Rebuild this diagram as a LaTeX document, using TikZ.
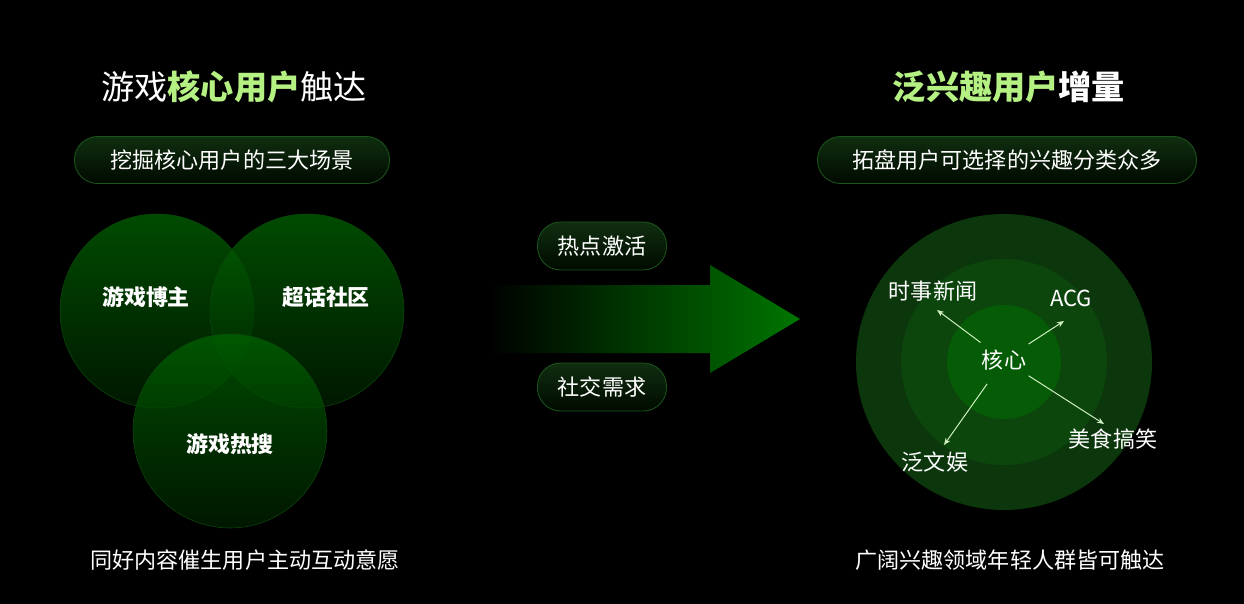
\documentclass[tikz,border=0pt]{standalone}
\usepackage{fontspec}
\setmainfont{Noto Sans CJK SC}
\usetikzlibrary{arrows.meta}
\definecolor{hilite}{RGB}{180,240,130}
\definecolor{pilltop}{RGB}{16,46,16}
\definecolor{pillbot}{RGB}{0,10,0}
\definecolor{pillline}{RGB}{28,85,28}
\definecolor{venntop}{RGB}{0,100,0}
\definecolor{vennbot}{RGB}{0,32,0}
\definecolor{vennline}{RGB}{14,70,14}
\definecolor{arrowgreen}{RGB}{0,118,0}
\definecolor{ringout}{RGB}{12,54,12}
\definecolor{ringmid}{RGB}{12,70,12}
\definecolor{ringin}{RGB}{6,92,6}
\definecolor{raycol}{RGB}{210,240,195}
\tikzset{
  title/.style={text=white, font=\fontsize{23.6}{28}\selectfont},
  body/.style={text=white, font=\fontsize{15.7}{19}\selectfont},
  tag/.style={text=white, font=\bfseries\fontsize{15.6}{19}\selectfont},
  pill/.style={body, draw=pillline, line width=0.6pt, top color=pilltop, bottom color=pillbot,
    minimum height=1.175cm, rounded corners=0.58cm},
  venn/.style={top color=venntop, bottom color=vennbot, fill opacity=0.75,
    draw=vennline, line width=0.4pt},
  ray/.style={draw=raycol, line width=0.7pt, -{Stealth[length=5pt,width=4pt]}}
}
\begin{document}
\begin{tikzpicture}[x=0.025cm, y=-0.025cm]
			%%%%% START %%%%%
			
			\fill[black] (0, 0) rectangle (1244, 604);
			\useasboundingbox (0, 0) rectangle (1244, 604);
			
			% left half
			\node[title] (ltitle) at (234, 87) {游戏{\bfseries\color{hilite}核心用户}触达};
			\node[pill, minimum width=7.875cm] (lpill) at (232, 160) {挖掘核心用户的三大场景};
			
			\shade[venn] (157, 311) circle (97);
			\shade[venn] (307, 311) circle (97);
			\shade[venn] (230, 431) circle (97);
			
			\node[tag] (blogger) at (146, 297) {游戏博主};
			\node[tag] (forum) at (326, 297) {超话社区};
			\node[tag] (search) at (230, 444) {游戏热搜};
			
			\node[body] (lnote) at (245, 560) {同好内容催生用户主动互动意愿};
			
			% middle arrow
			\shade[left color=black, right color=arrowgreen]
				(488, 285) -- (710, 285) -- (710, 265) -- (800, 319) -- (710, 373) -- (710, 353) -- (488, 353) -- cycle;
			
			\node[pill, minimum width=3.225cm, minimum height=1.2cm] (hot) at (602, 246) {热点激活};
			\node[pill, minimum width=3.225cm, minimum height=1.2cm] (social) at (602, 387) {社交需求};
			
			% right half
			\node[title, font=\bfseries\fontsize{23.6}{28}\selectfont] (rtitle) at (1009, 87) {{\color{hilite}泛兴趣用户}增量};
			\node[pill, minimum width=9.475cm] (rpill) at (1007, 160) {拓盘用户可选择的兴趣分类众多};
			
			\fill[ringout] (1004, 362) circle (148);
			\fill[ringmid] (1004, 362) circle (103);
			\fill[ringin] (1004, 362) circle (57);
			
			\node[body, circle, inner sep=0pt, minimum size=1.45cm] (core) at (1004, 360) {核心};
			\node[body] (news) at (933, 291) {时事新闻};
			\node[body] (acg) at (1071, 298) {ACG};
			\node[body] (food) at (1113, 439) {美食搞笑};
			\node[body] (ent) at (935, 462) {泛文娱};
			
			\coordinate (newsTip) at (937, 310);
			\coordinate (acgTip) at (1064, 321);
			\coordinate (foodTip) at (1104, 424);
			\coordinate (entTip) at (944, 445);
			
			\draw[ray] (core) -- (newsTip);
			\draw[ray] (core) -- (acgTip);
			\draw[ray] (core) -- (foodTip);
			\draw[ray] (core) -- (entTip);
			
			\node[body] (rnote) at (1010, 560) {广阔兴趣领域年轻人群皆可触达};
			
			%%%%% END %%%%%
\end{tikzpicture}
\end{document}
